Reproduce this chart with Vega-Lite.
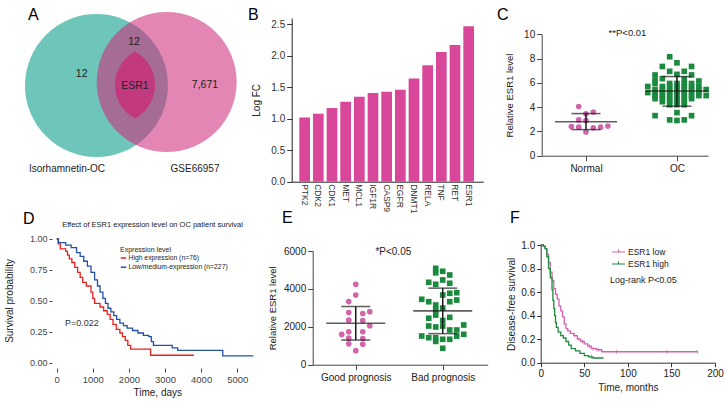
{
"$schema": "https://vega.github.io/schema/vega-lite/v6.json",
"width": 726, "height": 406,
"autosize": {"type": "none"},
"padding": 0,
"background": "white",
"config": {
  "view": {"stroke": null},
  "font": "Liberation Sans",
  "axis": {"grid": false, "titleFontWeight": "normal", "domainColor": "#333", "tickColor": "#333", "labelColor": "#222", "titleColor": "#222", "labelFlush": false},
  "text": {"font": "Liberation Sans", "color": "#222"}
},
"layer": [
{
 "layer": [
  {"data": {"values": [{"set": "Isorhamnetin-OC"}]},
   "mark": {"type": "point", "shape": "circle", "filled": true, "size": 20449, "color": "#6ec6ba", "opacity": 1, "strokeWidth": 0},
   "encoding": {
     "x": {"datum": -0.49, "type": "quantitative", "scale": {"domain": [-2, 2], "range": [-11.5, 274.5], "nice": false, "zero": false}, "axis": null},
     "y": {"datum": -0.007, "type": "quantitative", "scale": {"domain": [-2, 2], "range": [228, -58], "nice": false, "zero": false}, "axis": null}}},
  {"data": {"values": [{"set": "GSE66957"}]},
   "mark": {"type": "point", "shape": "circle", "filled": true, "size": 19600, "color": "#d02a7a", "opacity": 0.57, "strokeWidth": 0},
   "encoding": {"x": {"datum": 0.492, "type": "quantitative", "axis": null}, "y": {"datum": 0.042, "type": "quantitative", "axis": null}}},
  {"data": {"values": [{"set": "intersection"}]},
   "mark": {"type": "point", "shape": "M0,-1A1.135,1.135 0 0 1 0,1A1.135,1.135 0 0 1 0,-1Z", "filled": true, "size": 4489, "color": "#c23a7d", "opacity": 1, "strokeWidth": 0},
   "encoding": {"x": {"datum": 0.049, "type": "quantitative", "axis": null}, "y": {"datum": 0, "type": "quantitative", "axis": null}}},
  {"data": {"values": [{"label": "12"}]}, "mark": {"type": "text", "fontSize": 10.5, "color": "#222"},
   "encoding": {"x": {"datum": -0.697, "type": "quantitative", "axis": null}, "y": {"datum": 0.154, "type": "quantitative", "axis": null}, "text": {"field": "label"}}},
  {"data": {"values": [{"label": "12"}]}, "mark": {"type": "text", "fontSize": 10.5, "color": "#222"},
   "encoding": {"x": {"datum": 0.035, "type": "quantitative", "axis": null}, "y": {"datum": 0.606, "type": "quantitative", "axis": null}, "text": {"field": "label"}}},
  {"data": {"values": [{"label": "ESR1"}]}, "mark": {"type": "text", "fontSize": 10.5, "color": "#222"},
   "encoding": {"x": {"datum": 0.049, "type": "quantitative", "axis": null}, "y": {"datum": -0.014, "type": "quantitative", "axis": null}, "text": {"field": "label"}}},
  {"data": {"values": [{"label": "7,671"}]}, "mark": {"type": "text", "fontSize": 10.5, "color": "#222"},
   "encoding": {"x": {"datum": 1.028, "type": "quantitative", "axis": null}, "y": {"datum": 0, "type": "quantitative", "axis": null}, "text": {"field": "label"}}},
  {"data": {"values": [{"label": "Isorhamnetin-OC"}]}, "mark": {"type": "text", "fontSize": 10, "color": "#222"},
   "encoding": {"x": {"datum": -0.902, "type": "quantitative", "axis": null}, "y": {"datum": -1.179, "type": "quantitative", "axis": null}, "text": {"field": "label"}}},
  {"data": {"values": [{"label": "GSE66957"}]}, "mark": {"type": "text", "fontSize": 10, "color": "#222"},
   "encoding": {"x": {"datum": 0.888, "type": "quantitative", "axis": null}, "y": {"datum": -1.179, "type": "quantitative", "axis": null}, "text": {"field": "label"}}},
  {"data": {"values": [{"label": "A"}]}, "mark": {"type": "text", "fontSize": 16, "align": "left", "baseline": "alphabetic", "color": "#000"},
   "encoding": {"x": {"datum": -1.448, "type": "quantitative", "axis": null}, "y": {"datum": 0.916, "type": "quantitative", "axis": null}, "text": {"field": "label"}}}
 ]
},
{
 "data": {"values": [
  {"gene": "PTK2", "logfc": 1.02}, {"gene": "CDK2", "logfc": 1.08}, {"gene": "CDK1", "logfc": 1.17},
  {"gene": "MET", "logfc": 1.27}, {"gene": "MCL1", "logfc": 1.35}, {"gene": "IGF1R", "logfc": 1.41},
  {"gene": "CASP9", "logfc": 1.43}, {"gene": "EGFR", "logfc": 1.46}, {"gene": "DNMT1", "logfc": 1.64},
  {"gene": "RELA", "logfc": 1.85}, {"gene": "TNF", "logfc": 2.06}, {"gene": "RET", "logfc": 2.17},
  {"gene": "ESR1", "logfc": 2.47}
 ]},
 "layer": [
  {"mark": {"type": "bar", "color": "#d8479a"},
   "encoding": {
    "x": {"field": "gene", "type": "nominal", "sort": null, "title": null,
          "scale": {"range": [291.7, 483.3], "paddingInner": 0.217, "paddingOuter": 0.617, "align": 0.45},
          "axis": {"orient": "bottom", "offset": -224.3, "labelAngle": 90, "ticks": false, "labelFontSize": 8.5, "labelPadding": 2, "domainColor": "#222", "labelColor": "#333"}},
    "y": {"field": "logfc", "type": "quantitative", "title": "Log FC",
          "scale": {"domain": [0, 2.6], "range": [181.7, 18], "nice": false, "zero": false},
          "axis": {"orient": "left", "offset": -291.7, "values": [0, 0.5, 1, 1.5, 2, 2.5], "format": ".1f", "tickSize": 5, "labelFontSize": 10, "titleFontSize": 10, "titlePadding": 9, "domainColor": "#222", "labelColor": "#333"}}
   }},
  {"data": {"values": [{"label": "B"}]},
   "mark": {"type": "text", "fontSize": 16, "align": "left", "baseline": "alphabetic", "dx": -56.7, "color": "#000"},
   "encoding": {"x": {"datum": "PTK2", "type": "nominal"}, "y": {"datum": 2.568, "type": "quantitative"}, "text": {"field": "label"}}}
 ]
},
{
 "layer": [
  {"data": {"values": [
    {"group": "Normal", "value": 4.05, "col": -1}, {"group": "Normal", "value": 3.6, "col": 1}, {"group": "Normal", "value": 3.45, "col": 0},
    {"group": "Normal", "value": 2.95, "col": -1}, {"group": "Normal", "value": 2.9, "col": 0}, {"group": "Normal", "value": 2.4, "col": -2},
    {"group": "Normal", "value": 2.35, "col": -1}, {"group": "Normal", "value": 2.3, "col": 1}, {"group": "Normal", "value": 2.35, "col": 2},
    {"group": "Normal", "value": 2.45, "col": 3}, {"group": "Normal", "value": 1.95, "col": 0},
    {"group": "OC", "value": 8.15, "col": -1}, {"group": "OC", "value": 7.65, "col": 0}, {"group": "OC", "value": 7.35, "col": -2},
    {"group": "OC", "value": 7.35, "col": 2}, {"group": "OC", "value": 6.95, "col": -1}, {"group": "OC", "value": 6.95, "col": 1},
    {"group": "OC", "value": 6.7, "col": 0}, {"group": "OC", "value": 6.65, "col": -3}, {"group": "OC", "value": 6.65, "col": 2},
    {"group": "OC", "value": 6.35, "col": -2}, {"group": "OC", "value": 6.3, "col": 1}, {"group": "OC", "value": 6.2, "col": -3},
    {"group": "OC", "value": 6.15, "col": 3},
    {"group": "OC", "value": 5.95, "col": -3}, {"group": "OC", "value": 5.95, "col": -1}, {"group": "OC", "value": 5.95, "col": 0}, {"group": "OC", "value": 5.95, "col": 1}, {"group": "OC", "value": 5.95, "col": 2},
    {"group": "OC", "value": 5.7, "col": -4}, {"group": "OC", "value": 5.7, "col": -2}, {"group": "OC", "value": 5.7, "col": -1}, {"group": "OC", "value": 5.7, "col": 0}, {"group": "OC", "value": 5.7, "col": 1}, {"group": "OC", "value": 5.7, "col": 2}, {"group": "OC", "value": 5.7, "col": 3},
    {"group": "OC", "value": 5.45, "col": -3}, {"group": "OC", "value": 5.45, "col": -2}, {"group": "OC", "value": 5.45, "col": -1}, {"group": "OC", "value": 5.45, "col": 0}, {"group": "OC", "value": 5.45, "col": 1}, {"group": "OC", "value": 5.45, "col": 2}, {"group": "OC", "value": 5.45, "col": 3}, {"group": "OC", "value": 5.45, "col": 4},
    {"group": "OC", "value": 5.2, "col": -4}, {"group": "OC", "value": 5.2, "col": -3}, {"group": "OC", "value": 5.2, "col": -2}, {"group": "OC", "value": 5.2, "col": -1}, {"group": "OC", "value": 5.2, "col": 0}, {"group": "OC", "value": 5.2, "col": 1}, {"group": "OC", "value": 5.2, "col": 2}, {"group": "OC", "value": 5.2, "col": 3},
    {"group": "OC", "value": 4.95, "col": -3}, {"group": "OC", "value": 4.95, "col": -2}, {"group": "OC", "value": 4.95, "col": -1}, {"group": "OC", "value": 4.95, "col": 0}, {"group": "OC", "value": 4.95, "col": 1}, {"group": "OC", "value": 4.95, "col": 2}, {"group": "OC", "value": 4.95, "col": 3}, {"group": "OC", "value": 4.95, "col": 4},
    {"group": "OC", "value": 4.7, "col": -3}, {"group": "OC", "value": 4.7, "col": -2}, {"group": "OC", "value": 4.7, "col": -1}, {"group": "OC", "value": 4.7, "col": 0}, {"group": "OC", "value": 4.7, "col": 1}, {"group": "OC", "value": 4.7, "col": 2},
    {"group": "OC", "value": 4.45, "col": -2}, {"group": "OC", "value": 4.45, "col": -1}, {"group": "OC", "value": 4.45, "col": 0}, {"group": "OC", "value": 4.45, "col": 1},
    {"group": "OC", "value": 4.2, "col": -1}, {"group": "OC", "value": 4.2, "col": 0}, {"group": "OC", "value": 4.2, "col": 1},
    {"group": "OC", "value": 3.55, "col": 0}, {"group": "OC", "value": 3.3, "col": -3}, {"group": "OC", "value": 3.3, "col": 2},
    {"group": "OC", "value": 2.95, "col": -1}, {"group": "OC", "value": 2.95, "col": 1}, {"group": "OC", "value": 2.9, "col": 0}
   ]},
   "mark": {"type": "point", "filled": true, "size": 32, "opacity": 1, "strokeWidth": 0},
   "encoding": {
     "x": {"field": "group", "type": "nominal", "title": null,
           "scale": {"type": "point", "domain": ["Normal", "OC"], "range": [541.7, 708], "padding": 0.414, "align": 0.588},
           "axis": {"orient": "bottom", "offset": -250.3, "labelAngle": 0, "labelFontSize": 10, "tickSize": 5, "labelPadding": 3, "domainColor": "#444", "tickColor": "#444"}},
     "xOffset": {"field": "col", "type": "quantitative", "scale": {"domain": [-5, 5], "range": [-36.5, 36.5]}},
     "y": {"field": "value", "type": "quantitative", "title": "Relative ESR1 level",
           "scale": {"domain": [0, 10], "range": [155.7, 34.3], "nice": false, "zero": false},
           "axis": {"orient": "left", "offset": -541.7, "values": [0, 2, 4, 6, 8, 10], "tickSize": 5, "labelFontSize": 10, "titleFontSize": 9.5, "titlePadding": 9, "domainColor": "#444", "tickColor": "#444"}},
     "color": {"field": "group", "type": "nominal", "scale": {"domain": ["Normal", "OC"], "range": ["#d065ac", "#1b8a3f"]}, "legend": null},
     "shape": {"field": "group", "type": "nominal", "scale": {"domain": ["Normal", "OC"], "range": ["circle", "square"]}, "legend": null}
   }},
  {"data": {"values": [{"group": "Normal", "mean": 2.8, "lo": 2.15, "hi": 3.47}, {"group": "OC", "mean": 5.33, "lo": 4.08, "hi": 6.52}]},
   "layer": [
    {"mark": {"type": "rule", "color": "#1a1a1a", "strokeWidth": 1.5},
     "encoding": {"x": {"field": "group", "type": "nominal"}, "y": {"field": "lo", "type": "quantitative"}, "y2": {"field": "hi"}}},
    {"mark": {"type": "tick", "color": "#1a1a1a", "size": 62, "thickness": 1.6},
     "encoding": {"x": {"field": "group", "type": "nominal"}, "y": {"field": "mean", "type": "quantitative"}}},
    {"mark": {"type": "tick", "color": "#1a1a1a", "size": 29, "thickness": 1.5},
     "encoding": {"x": {"field": "group", "type": "nominal"}, "y": {"field": "lo", "type": "quantitative"}}},
    {"mark": {"type": "tick", "color": "#1a1a1a", "size": 29, "thickness": 1.5},
     "encoding": {"x": {"field": "group", "type": "nominal"}, "y": {"field": "hi", "type": "quantitative"}}}
   ]},
  {"data": {"values": [{"label": "**P<0.01"}]},
   "mark": {"type": "text", "fontSize": 9.5, "dx": 41.5, "dy": -1, "color": "#222"},
   "encoding": {"x": {"datum": "Normal", "type": "nominal"}, "y": {"datum": 10, "type": "quantitative"}, "text": {"field": "label"}}},
  {"data": {"values": [{"label": "C"}]},
   "mark": {"type": "text", "fontSize": 16, "align": "left", "baseline": "alphabetic", "dx": -89, "color": "#000"},
   "encoding": {"x": {"datum": "Normal", "type": "nominal"}, "y": {"datum": 11.18, "type": "quantitative"}, "text": {"field": "label"}}}
 ]
},
{
 "layer": [
  {"data": {"values": [
    {"g": "High expression (n=76)", "t": 0, "s": 1}, {"g": "High expression (n=76)", "t": 40, "s": 0.96}, {"g": "High expression (n=76)", "t": 100, "s": 0.92},
    {"g": "High expression (n=76)", "t": 250, "s": 0.9}, {"g": "High expression (n=76)", "t": 300, "s": 0.87}, {"g": "High expression (n=76)", "t": 350, "s": 0.84},
    {"g": "High expression (n=76)", "t": 420, "s": 0.81}, {"g": "High expression (n=76)", "t": 500, "s": 0.77}, {"g": "High expression (n=76)", "t": 580, "s": 0.73},
    {"g": "High expression (n=76)", "t": 650, "s": 0.69}, {"g": "High expression (n=76)", "t": 720, "s": 0.65}, {"g": "High expression (n=76)", "t": 820, "s": 0.62},
    {"g": "High expression (n=76)", "t": 950, "s": 0.57}, {"g": "High expression (n=76)", "t": 1000, "s": 0.52}, {"g": "High expression (n=76)", "t": 1050, "s": 0.48},
    {"g": "High expression (n=76)", "t": 1200, "s": 0.45}, {"g": "High expression (n=76)", "t": 1300, "s": 0.42}, {"g": "High expression (n=76)", "t": 1400, "s": 0.39},
    {"g": "High expression (n=76)", "t": 1480, "s": 0.35}, {"g": "High expression (n=76)", "t": 1560, "s": 0.31}, {"g": "High expression (n=76)", "t": 1650, "s": 0.27},
    {"g": "High expression (n=76)", "t": 1750, "s": 0.24}, {"g": "High expression (n=76)", "t": 1820, "s": 0.21}, {"g": "High expression (n=76)", "t": 1900, "s": 0.18},
    {"g": "High expression (n=76)", "t": 1970, "s": 0.14}, {"g": "High expression (n=76)", "t": 2050, "s": 0.11}, {"g": "High expression (n=76)", "t": 2600, "s": 0.06},
    {"g": "High expression (n=76)", "t": 3800, "s": 0.06},
    {"g": "Low/medium-expression (n=227)", "t": 0, "s": 1}, {"g": "Low/medium-expression (n=227)", "t": 50, "s": 0.97}, {"g": "Low/medium-expression (n=227)", "t": 250, "s": 0.95},
    {"g": "Low/medium-expression (n=227)", "t": 400, "s": 0.93}, {"g": "Low/medium-expression (n=227)", "t": 550, "s": 0.89}, {"g": "Low/medium-expression (n=227)", "t": 650, "s": 0.86},
    {"g": "Low/medium-expression (n=227)", "t": 750, "s": 0.82}, {"g": "Low/medium-expression (n=227)", "t": 850, "s": 0.78}, {"g": "Low/medium-expression (n=227)", "t": 950, "s": 0.73},
    {"g": "Low/medium-expression (n=227)", "t": 1050, "s": 0.67}, {"g": "Low/medium-expression (n=227)", "t": 1130, "s": 0.62}, {"g": "Low/medium-expression (n=227)", "t": 1200, "s": 0.57},
    {"g": "Low/medium-expression (n=227)", "t": 1280, "s": 0.52}, {"g": "Low/medium-expression (n=227)", "t": 1350, "s": 0.48}, {"g": "Low/medium-expression (n=227)", "t": 1420, "s": 0.44},
    {"g": "Low/medium-expression (n=227)", "t": 1500, "s": 0.41}, {"g": "Low/medium-expression (n=227)", "t": 1580, "s": 0.38}, {"g": "Low/medium-expression (n=227)", "t": 1660, "s": 0.35},
    {"g": "Low/medium-expression (n=227)", "t": 1750, "s": 0.32}, {"g": "Low/medium-expression (n=227)", "t": 1850, "s": 0.3}, {"g": "Low/medium-expression (n=227)", "t": 1950, "s": 0.28},
    {"g": "Low/medium-expression (n=227)", "t": 2100, "s": 0.26}, {"g": "Low/medium-expression (n=227)", "t": 2250, "s": 0.24}, {"g": "Low/medium-expression (n=227)", "t": 2400, "s": 0.22},
    {"g": "Low/medium-expression (n=227)", "t": 2550, "s": 0.21}, {"g": "Low/medium-expression (n=227)", "t": 2620, "s": 0.17}, {"g": "Low/medium-expression (n=227)", "t": 2680, "s": 0.14},
    {"g": "Low/medium-expression (n=227)", "t": 3200, "s": 0.12}, {"g": "Low/medium-expression (n=227)", "t": 3350, "s": 0.1}, {"g": "Low/medium-expression (n=227)", "t": 4600, "s": 0.055},
    {"g": "Low/medium-expression (n=227)", "t": 5450, "s": 0.055}
   ]},
   "mark": {"type": "line", "interpolate": "step-after", "strokeWidth": 1.3},
   "encoding": {
    "x": {"field": "t", "type": "quantitative", "title": "Time, days",
          "scale": {"domain": [-130, 5700], "range": [52, 262.5], "nice": false, "zero": false},
          "axis": {"orient": "bottom", "offset": -38, "values": [0, 1000, 2000, 3000, 4000, 5000], "format": "d", "domain": false, "tickSize": 4, "labelFontSize": 9.5, "titleFontSize": 10, "titlePadding": 4, "labelColor": "#444", "tickColor": "#444"}},
    "y": {"field": "s", "type": "quantitative", "title": "Survival probability",
          "scale": {"domain": [-0.043, 1.05], "range": [368, 232.8], "nice": false, "zero": false},
          "axis": {"orient": "left", "offset": -52, "values": [0, 0.25, 0.5, 0.75, 1], "format": ".2f", "domain": false, "tickSize": 3, "labelFontSize": 9, "titleFontSize": 10, "titlePadding": 15, "labelColor": "#444", "tickColor": "#444"}},
    "color": {"field": "g", "type": "nominal",
              "scale": {"domain": ["High expression (n=76)", "Low/medium-expression (n=227)"], "range": ["#e8221c", "#2350a3"]},
              "legend": {"orient": "none", "legendX": 120, "legendY": 246, "title": "Expression level", "titleFontSize": 7, "titleFontWeight": "normal", "titleColor": "#222", "labelFontSize": 6.8, "labelColor": "#222", "symbolType": "stroke", "symbolSize": 30, "symbolStrokeWidth": 1.5, "labelOffset": 1.5, "rowPadding": 1.2, "titlePadding": 1.5, "padding": 0}}
   }},
  {"data": {"values": [{"label": "Effect of ESR1 expression level on OC patient survival"}]},
   "mark": {"type": "text", "fontSize": 7.5, "color": "#222"},
   "encoding": {"x": {"datum": 2654, "type": "quantitative"}, "y": {"datum": 1.113, "type": "quantitative"}, "text": {"field": "label"}}},
  {"data": {"values": [{"label": "P=0.022"}]},
   "mark": {"type": "text", "fontSize": 9, "align": "left", "color": "#333"},
   "encoding": {"x": {"datum": 230, "type": "quantitative"}, "y": {"datum": 0.32, "type": "quantitative"}, "text": {"field": "label"}}},
  {"data": {"values": [{"label": "D"}]},
   "mark": {"type": "text", "fontSize": 16, "align": "left", "baseline": "alphabetic", "color": "#000"},
   "encoding": {"x": {"datum": -933, "type": "quantitative"}, "y": {"datum": 1.121, "type": "quantitative"}, "text": {"field": "label"}}}
 ]
},
{
 "layer": [
  {"data": {"values": [
    {"group": "Good prognosis", "value": 4240, "col": 0}, {"group": "Good prognosis", "value": 3680, "col": 0}, {"group": "Good prognosis", "value": 3330, "col": -1},
    {"group": "Good prognosis", "value": 2800, "col": 2}, {"group": "Good prognosis", "value": 2750, "col": -1}, {"group": "Good prognosis", "value": 2700, "col": 1},
    {"group": "Good prognosis", "value": 2350, "col": -1}, {"group": "Good prognosis", "value": 2330, "col": 1}, {"group": "Good prognosis", "value": 2050, "col": 2},
    {"group": "Good prognosis", "value": 1600, "col": -2}, {"group": "Good prognosis", "value": 1740, "col": -1}, {"group": "Good prognosis", "value": 1740, "col": 1},
    {"group": "Good prognosis", "value": 1400, "col": -1}, {"group": "Good prognosis", "value": 1380, "col": 1}, {"group": "Good prognosis", "value": 1100, "col": -1},
    {"group": "Good prognosis", "value": 1080, "col": 1}, {"group": "Good prognosis", "value": 740, "col": 0},
    {"group": "Bad prognosis", "value": 5085, "col": -1}, {"group": "Bad prognosis", "value": 4850, "col": -1}, {"group": "Bad prognosis", "value": 4930, "col": 0},
    {"group": "Bad prognosis", "value": 4733, "col": 1}, {"group": "Bad prognosis", "value": 4348, "col": -2}, {"group": "Bad prognosis", "value": 4243, "col": -1},
    {"group": "Bad prognosis", "value": 4470, "col": 0}, {"group": "Bad prognosis", "value": 4296, "col": 1}, {"group": "Bad prognosis", "value": 3451, "col": -3},
    {"group": "Bad prognosis", "value": 3325, "col": -2}, {"group": "Bad prognosis", "value": 3678, "col": 0}, {"group": "Bad prognosis", "value": 3768, "col": 1},
    {"group": "Bad prognosis", "value": 3800, "col": 2}, {"group": "Bad prognosis", "value": 3150, "col": -1}, {"group": "Bad prognosis", "value": 3325, "col": 1},
    {"group": "Bad prognosis", "value": 3414, "col": 2}, {"group": "Bad prognosis", "value": 2886, "col": -1}, {"group": "Bad prognosis", "value": 2990, "col": 0},
    {"group": "Bad prognosis", "value": 2449, "col": -2}, {"group": "Bad prognosis", "value": 2500, "col": 1}, {"group": "Bad prognosis", "value": 2620, "col": -1},
    {"group": "Bad prognosis", "value": 2330, "col": 0}, {"group": "Bad prognosis", "value": 2042, "col": -2}, {"group": "Bad prognosis", "value": 1990, "col": -1},
    {"group": "Bad prognosis", "value": 2040, "col": 0}, {"group": "Bad prognosis", "value": 1831, "col": 1}, {"group": "Bad prognosis", "value": 1831, "col": 2},
    {"group": "Bad prognosis", "value": 2095, "col": 3}, {"group": "Bad prognosis", "value": 1514, "col": -3}, {"group": "Bad prognosis", "value": 1425, "col": -2},
    {"group": "Bad prognosis", "value": 1425, "col": -1}, {"group": "Bad prognosis", "value": 1340, "col": 0}, {"group": "Bad prognosis", "value": 1340, "col": 1},
    {"group": "Bad prognosis", "value": 1510, "col": 2}, {"group": "Bad prognosis", "value": 1604, "col": 3}, {"group": "Bad prognosis", "value": 1230, "col": -1},
    {"group": "Bad prognosis", "value": 866, "col": 0}
   ]},
   "mark": {"type": "point", "filled": true, "size": 32, "opacity": 1, "strokeWidth": 0},
   "encoding": {
     "x": {"field": "group", "type": "nominal", "title": null,
           "scale": {"type": "point", "domain": ["Good prognosis", "Bad prognosis"], "range": [312.7, 487.7], "padding": 0.506, "align": 0.489},
           "axis": {"orient": "bottom", "offset": -41.3, "labelAngle": 0, "labelFontSize": 10, "tickSize": 5, "labelPadding": 3, "domainColor": "#444", "tickColor": "#444"}},
     "xOffset": {"field": "col", "type": "quantitative", "scale": {"domain": [-5, 5], "range": [-35, 35]}},
     "y": {"field": "value", "type": "quantitative", "title": "Relative ESR1 level",
           "scale": {"domain": [0, 6000], "range": [364.7, 251], "nice": false, "zero": false},
           "axis": {"orient": "left", "offset": -312.7, "values": [0, 2000, 4000, 6000], "format": "d", "tickSize": 5, "labelFontSize": 10, "titleFontSize": 9.5, "titlePadding": 6, "domainColor": "#444", "tickColor": "#444"}},
     "color": {"field": "group", "type": "nominal", "scale": {"domain": ["Good prognosis", "Bad prognosis"], "range": ["#d065ac", "#1b8a3f"]}, "legend": null},
     "shape": {"field": "group", "type": "nominal", "scale": {"domain": ["Good prognosis", "Bad prognosis"], "range": ["circle", "square"]}, "legend": null}
   }},
  {"data": {"values": [{"group": "Good prognosis", "mean": 2190, "lo": 1300, "hi": 3070}, {"group": "Bad prognosis", "mean": 2840, "lo": 1640, "hi": 4040}]},
   "layer": [
    {"mark": {"type": "rule", "color": "#1a1a1a", "strokeWidth": 1.5},
     "encoding": {"x": {"field": "group", "type": "nominal"}, "y": {"field": "lo", "type": "quantitative"}, "y2": {"field": "hi"}}},
    {"mark": {"type": "tick", "color": "#1a1a1a", "size": 59, "thickness": 1.6},
     "encoding": {"x": {"field": "group", "type": "nominal"}, "y": {"field": "mean", "type": "quantitative"}}},
    {"mark": {"type": "tick", "color": "#1a1a1a", "size": 29, "thickness": 1.5},
     "encoding": {"x": {"field": "group", "type": "nominal"}, "y": {"field": "lo", "type": "quantitative"}}},
    {"mark": {"type": "tick", "color": "#1a1a1a", "size": 29, "thickness": 1.5},
     "encoding": {"x": {"field": "group", "type": "nominal"}, "y": {"field": "hi", "type": "quantitative"}}}
   ]},
  {"data": {"values": [{"label": "*P<0.05"}]},
   "mark": {"type": "text", "fontSize": 10, "dx": 37.6, "dy": 1, "color": "#222"},
   "encoding": {"x": {"datum": "Good prognosis", "type": "nominal"}, "y": {"datum": 6000, "type": "quantitative"}, "text": {"field": "label"}}},
  {"data": {"values": [{"label": "E"}]},
   "mark": {"type": "text", "fontSize": 16, "align": "left", "baseline": "alphabetic", "dx": -73.7, "color": "#000"},
   "encoding": {"x": {"datum": "Good prognosis", "type": "nominal"}, "y": {"datum": 7478, "type": "quantitative"}, "text": {"field": "label"}}}
 ]
},
{
 "layer": [
  {"data": {"values": [
    {"g": "ESR1 low", "m": 0, "s": 1}, {"g": "ESR1 low", "m": 3, "s": 0.99}, {"g": "ESR1 low", "m": 5, "s": 0.97}, {"g": "ESR1 low", "m": 7, "s": 0.92},
    {"g": "ESR1 low", "m": 9, "s": 0.85}, {"g": "ESR1 low", "m": 11, "s": 0.77}, {"g": "ESR1 low", "m": 13, "s": 0.7}, {"g": "ESR1 low", "m": 15, "s": 0.63},
    {"g": "ESR1 low", "m": 17, "s": 0.58}, {"g": "ESR1 low", "m": 19, "s": 0.54}, {"g": "ESR1 low", "m": 21, "s": 0.48}, {"g": "ESR1 low", "m": 23, "s": 0.44},
    {"g": "ESR1 low", "m": 25, "s": 0.39}, {"g": "ESR1 low", "m": 27, "s": 0.33}, {"g": "ESR1 low", "m": 29, "s": 0.29}, {"g": "ESR1 low", "m": 31, "s": 0.27},
    {"g": "ESR1 low", "m": 34, "s": 0.25}, {"g": "ESR1 low", "m": 38, "s": 0.23}, {"g": "ESR1 low", "m": 42, "s": 0.2}, {"g": "ESR1 low", "m": 46, "s": 0.18},
    {"g": "ESR1 low", "m": 50, "s": 0.16}, {"g": "ESR1 low", "m": 54, "s": 0.14}, {"g": "ESR1 low", "m": 58, "s": 0.12}, {"g": "ESR1 low", "m": 64, "s": 0.11},
    {"g": "ESR1 low", "m": 70, "s": 0.093}, {"g": "ESR1 low", "m": 180, "s": 0.093},
    {"g": "ESR1 high", "m": 0, "s": 1}, {"g": "ESR1 high", "m": 3, "s": 0.99}, {"g": "ESR1 high", "m": 5, "s": 0.97}, {"g": "ESR1 high", "m": 7, "s": 0.9},
    {"g": "ESR1 high", "m": 9, "s": 0.8}, {"g": "ESR1 high", "m": 11, "s": 0.72}, {"g": "ESR1 high", "m": 13, "s": 0.62}, {"g": "ESR1 high", "m": 14, "s": 0.53},
    {"g": "ESR1 high", "m": 15, "s": 0.46}, {"g": "ESR1 high", "m": 16, "s": 0.4}, {"g": "ESR1 high", "m": 17, "s": 0.34}, {"g": "ESR1 high", "m": 18, "s": 0.3},
    {"g": "ESR1 high", "m": 20, "s": 0.26}, {"g": "ESR1 high", "m": 23, "s": 0.23}, {"g": "ESR1 high", "m": 26, "s": 0.21}, {"g": "ESR1 high", "m": 29, "s": 0.18},
    {"g": "ESR1 high", "m": 32, "s": 0.15}, {"g": "ESR1 high", "m": 35, "s": 0.12}, {"g": "ESR1 high", "m": 40, "s": 0.1}, {"g": "ESR1 high", "m": 45, "s": 0.08},
    {"g": "ESR1 high", "m": 50, "s": 0.06}, {"g": "ESR1 high", "m": 55, "s": 0.05}, {"g": "ESR1 high", "m": 60, "s": 0.04}, {"g": "ESR1 high", "m": 72, "s": 0.04}
   ]},
   "mark": {"type": "line", "interpolate": "step-after", "strokeWidth": 1.3},
   "encoding": {
    "x": {"field": "m", "type": "quantitative", "title": "Time, months",
          "scale": {"domain": [0, 200], "range": [540.7, 715], "nice": false, "zero": false},
          "axis": {"orient": "bottom", "offset": -43.3, "values": [0, 50, 100, 150, 200], "tickSize": 4, "labelFontSize": 10, "titleFontSize": 10, "titlePadding": 4, "domainColor": "#333"}},
    "y": {"field": "s", "type": "quantitative", "title": "Disease-free survival",
          "scale": {"domain": [0, 1], "range": [362.7, 245], "nice": false, "zero": false},
          "axis": {"orient": "left", "offset": -540.7, "values": [0, 0.2, 0.4, 0.6, 0.8, 1], "format": ".1f", "tickSize": 4, "labelFontSize": 10, "titleFontSize": 10, "titlePadding": 4, "domainColor": "#333"}},
    "color": {"field": "g", "type": "nominal",
              "scale": {"domain": ["ESR1 low", "ESR1 high"], "range": ["#d063ad", "#1e8a3c"]},
              "legend": {"orient": "none", "legendX": 611, "legendY": 244.5, "title": null, "labelFontSize": 8.5, "labelColor": "#222", "symbolType": "M-1,0L1,0M0,0L0,-0.4", "symbolSize": 169, "symbolStrokeWidth": 1.2, "labelOffset": 2, "rowPadding": 0, "padding": 0}}
   }},
  {"data": {"values": [
    {"g": "ESR1 low", "m": 39, "s": 0.23}, {"g": "ESR1 low", "m": 44, "s": 0.2}, {"g": "ESR1 low", "m": 48, "s": 0.18}, {"g": "ESR1 low", "m": 56, "s": 0.14},
    {"g": "ESR1 low", "m": 60, "s": 0.12}, {"g": "ESR1 low", "m": 66, "s": 0.11}, {"g": "ESR1 low", "m": 87, "s": 0.093}, {"g": "ESR1 low", "m": 145, "s": 0.093},
    {"g": "ESR1 low", "m": 180, "s": 0.093}
   ]},
   "mark": {"type": "point", "shape": "M0,-1L0,1", "filled": false, "size": 16, "strokeWidth": 1, "color": "#d063ad"},
   "encoding": {"x": {"field": "m", "type": "quantitative"}, "y": {"field": "s", "type": "quantitative"}}},
  {"data": {"values": [{"g": "ESR1 high", "m": 58, "s": 0.05}]},
   "mark": {"type": "point", "shape": "M0,-1L0,1", "filled": false, "size": 16, "strokeWidth": 1, "color": "#1e8a3c"},
   "encoding": {"x": {"field": "m", "type": "quantitative"}, "y": {"field": "s", "type": "quantitative"}}},
  {"data": {"values": [{"label": "Log-rank P<0.05"}]},
   "mark": {"type": "text", "fontSize": 9, "align": "left", "color": "#222"},
   "encoding": {"x": {"datum": 79.5, "type": "quantitative"}, "y": {"datum": 0.703, "type": "quantitative"}, "text": {"field": "label"}}},
  {"data": {"values": [{"label": "F"}]},
   "mark": {"type": "text", "fontSize": 16, "align": "left", "baseline": "alphabetic", "color": "#000"},
   "encoding": {"x": {"datum": -35.2, "type": "quantitative"}, "y": {"datum": 1.187, "type": "quantitative"}, "text": {"field": "label"}}}
 ]
}
],
"resolve": {
  "scale": {"x": "independent", "y": "independent", "color": "independent", "shape": "independent", "xOffset": "independent"},
  "axis": {"x": "independent", "y": "independent"},
  "legend": {"color": "independent", "shape": "independent"}
}
}
